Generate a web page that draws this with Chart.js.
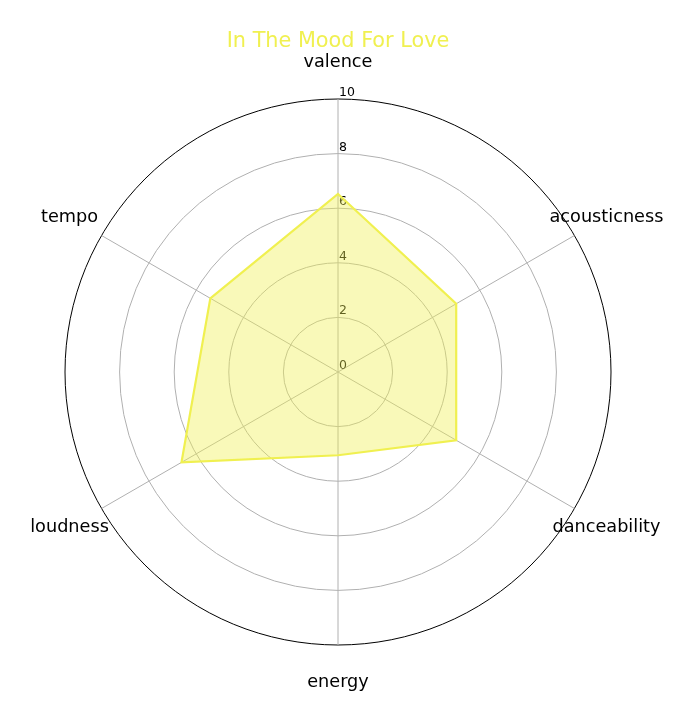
<!DOCTYPE html>
<html>
<head>
<meta charset="utf-8">
<script src="https://cdn.jsdelivr.net/npm/chart.js@4/dist/chart.umd.min.js"></script>
<style>
html,body{margin:0;padding:0;background:#fff;}
#wrap{width:693px;height:721px;}
</style>
</head>
<body>
<div id="wrap"><canvas id="c" width="693" height="721"></canvas></div>
<script>
const categories = ["valence", "acousticness", "danceability", "energy", "loudness", "tempo"];
const seriesValues = [6.52, 5.0, 5.0, 3.05, 6.62, 5.4];
const tickValues = [0, 2, 4, 6, 8, 10];
const chartTitle = "In The Mood For Love";

const FONT = "'DejaVu Sans', sans-serif";

const labelPlugin = {
  id: 'mplLabels',
  beforeDatasetsDraw(chart) {
    const s = chart.scales.r;
    const ctx = chart.ctx;
    ctx.save();
    ctx.fillStyle = '#000';
    ctx.font = "12.5px " + FONT;
    ctx.textAlign = 'left';
    ctx.textBaseline = 'alphabetic';
    tickValues.forEach(v => {
      const d = s.getDistanceFromCenterForValue(v);
      ctx.fillText(String(v), s.xCenter + 1, s.yCenter - d - 3);
    });
    ctx.restore();
  },
  afterDatasetsDraw(chart) {
    const s = chart.scales.r;
    const ctx = chart.ctx;
    ctx.save();
    ctx.fillStyle = '#000';
    ctx.font = "17.7px " + FONT;
    ctx.textAlign = 'center';
    ctx.textBaseline = 'middle';
    categories.forEach((c, i) => {
      const p = s.getPointPosition(i, s.drawingArea + 37);
      ctx.fillText(c, p.x, p.y + 0.5);
    });
    ctx.restore();
  }
};

new Chart(document.getElementById('c'), {
  type: 'radar',
  data: {
    labels: categories,
    datasets: [{
      data: seriesValues,
      borderColor: 'rgb(240,240,80)',
      backgroundColor: 'rgba(240,240,80,0.4)',
      borderWidth: 2.2,
      pointRadius: 0,
      fill: true,
      tension: 0
    }]
  },
  options: {
    responsive: false,
    animation: false,
    layout: { padding: { top: 29, left: 65, right: 82, bottom: 75 } },
    plugins: {
      legend: { display: false },
      tooltip: { enabled: false },
      title: {
        display: true,
        text: chartTitle,
        color: 'rgb(240,240,80)',
        font: { family: FONT, size: 20.8, weight: 'normal' },
        padding: { top: 0, bottom: 46 }
      }
    },
    scales: {
      r: {
        min: 0,
        max: 10,
        ticks: { display: false, stepSize: 2 },
        pointLabels: { display: false },
        angleLines: { color: '#b0b0b0', lineWidth: 1 },
        grid: {
          circular: true,
          color: ctx => (ctx.tick && ctx.tick.value === 10) ? '#000000' : '#b0b0b0',
          lineWidth: 1
        }
      }
    }
  },
  plugins: [labelPlugin]
});
</script>
</body>
</html>
